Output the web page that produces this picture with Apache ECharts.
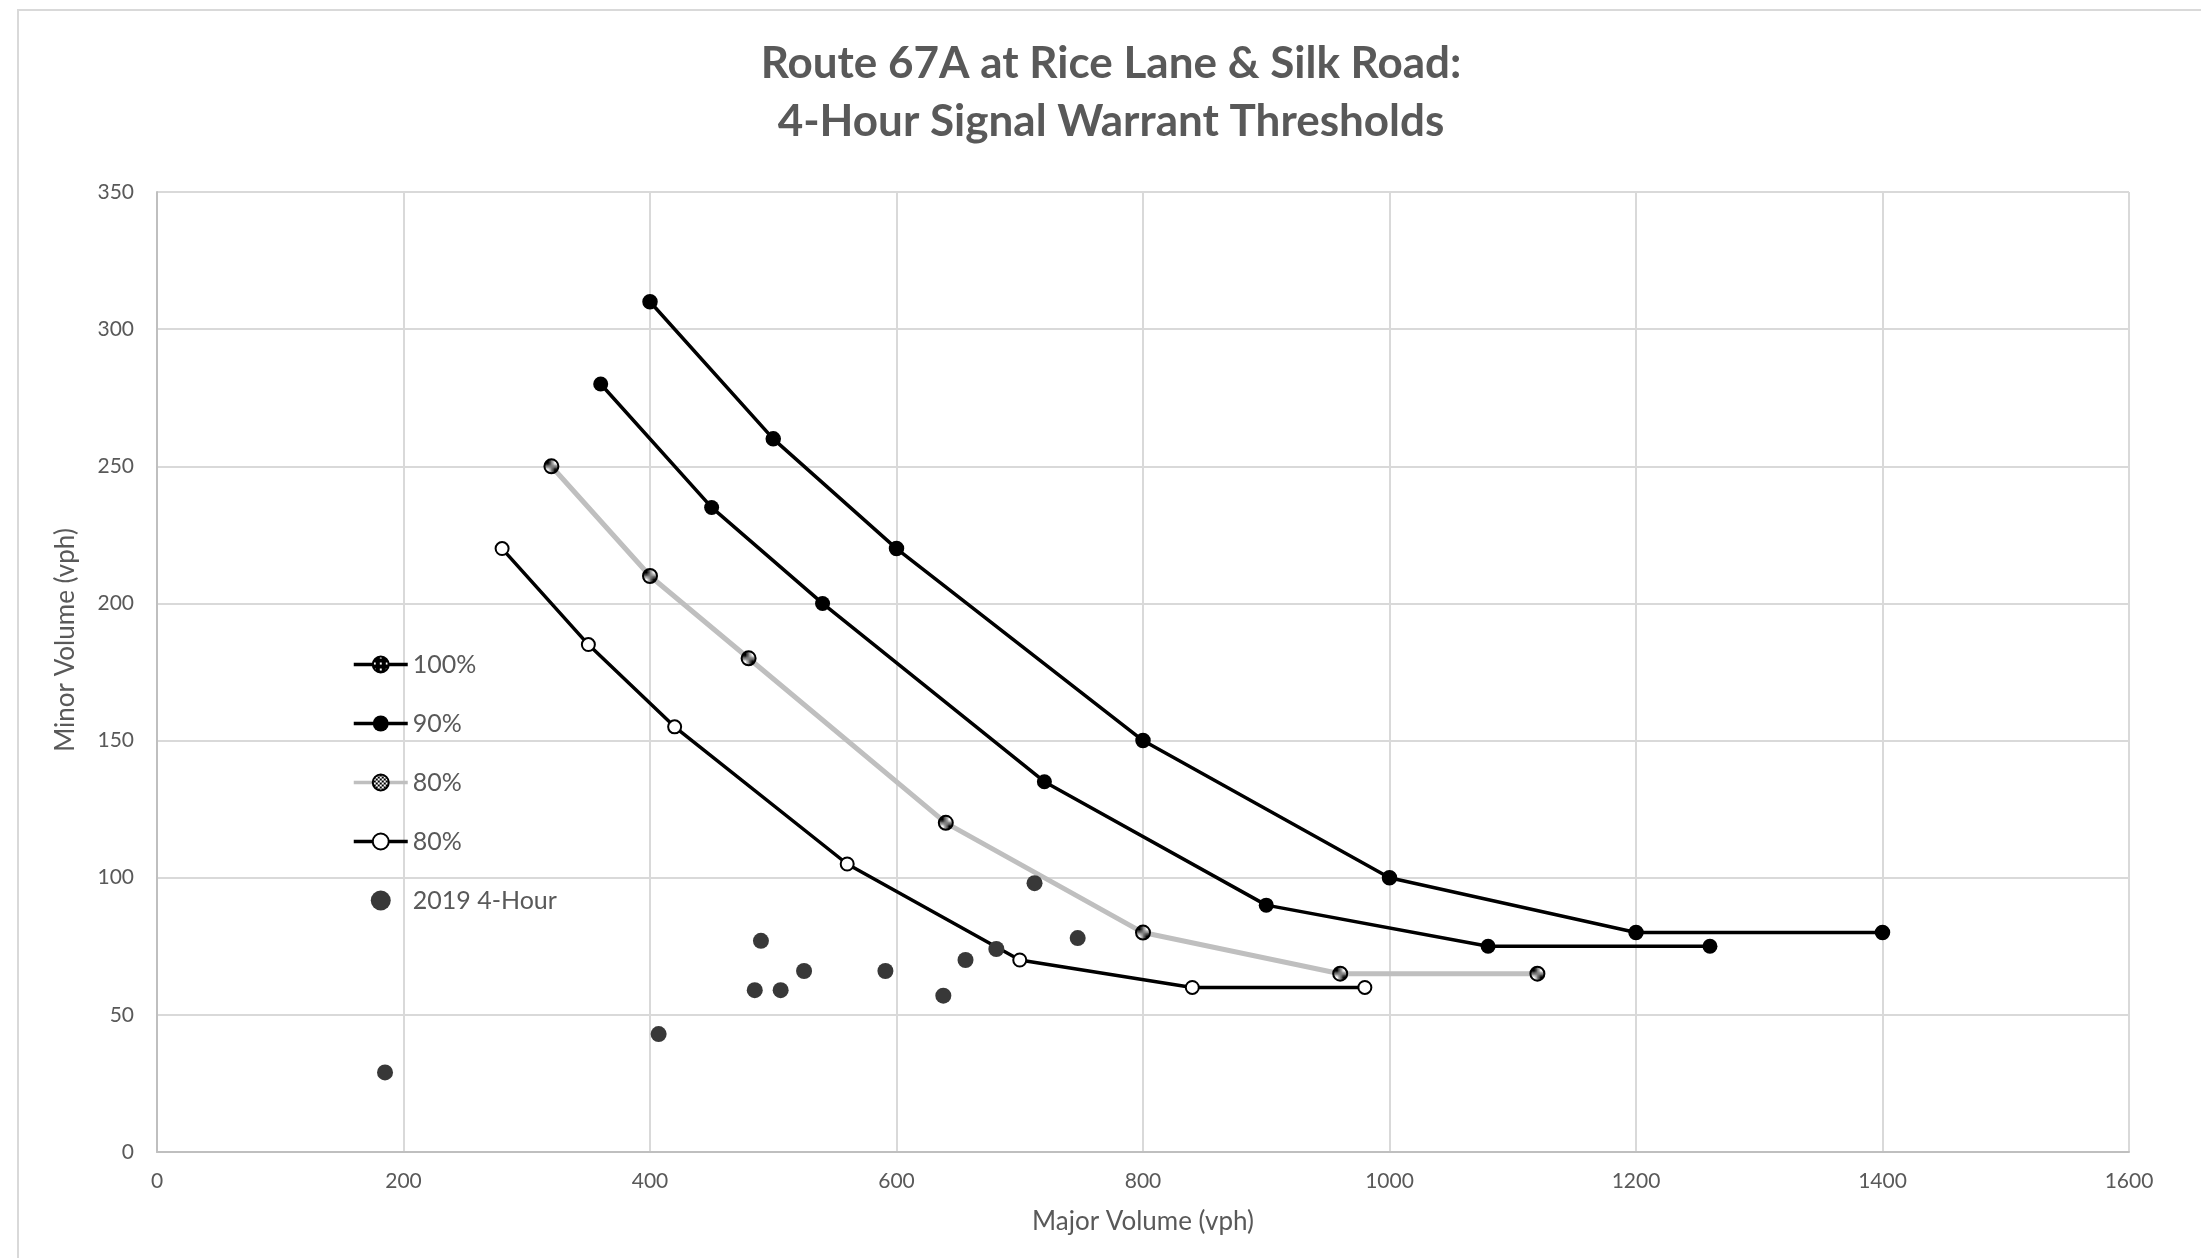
<!DOCTYPE html>
<html>
<head>
<meta charset="utf-8">
<script src="https://cdn.jsdelivr.net/npm/echarts@6/dist/echarts.min.js"></script>
<style>
html,body{margin:0;padding:0;background:#fff;}
#chart{width:2201px;height:1258px;}
</style>
</head>
<body>
<div id="chart"></div>
<script>
// ---- Data ----
const titleLines = ['Route 67A at Rice Lane & Silk Road:', '4-Hour Signal Warrant Thresholds'];
const xAxisName = 'Major Volume (vph)';
const yAxisName = 'Minor Volume (vph)';
const seriesNames = ['100%', '90%', '80%', '80% ', '2019 4-Hour'];

const major100 = [400, 500, 600, 800, 1000, 1200, 1400];
const minor100 = [310, 260, 220, 150, 100, 80, 80];
const major90 = [360, 450, 540, 720, 900, 1080, 1260];
const minor90 = [280, 235, 200, 135, 90, 75, 75];
const major80a = [320, 400, 480, 640, 800, 960, 1120];
const minor80a = [250, 210, 180, 120, 80, 65, 65];
const major80b = [280, 350, 420, 560, 700, 840, 980];
const minor80b = [220, 185, 155, 105, 70, 60, 60];
const major2019 = [185, 407, 485, 490, 506, 525, 591, 638, 656, 681, 712, 747];
const minor2019 = [29, 43, 59, 77, 59, 66, 66, 57, 70, 74, 98, 78];

const xTicks = [0, 200, 400, 600, 800, 1000, 1200, 1400, 1600];
const yTicks = [0, 50, 100, 150, 200, 250, 300, 350];

function pairs(xs, ys) { return xs.map((x, i) => [x, ys[i]]); }

// ---- Marker fill patterns ----
function makeDotPattern() {
  const c = document.createElement('canvas');
  c.width = 6; c.height = 6;
  const g = c.getContext('2d');
  g.fillStyle = '#000'; g.fillRect(0, 0, 6, 6);
  g.fillStyle = '#fff'; g.fillRect(2, 2, 2, 2);
  return c;
}
function makeCheckerPattern() {
  const c = document.createElement('canvas');
  c.width = 4; c.height = 4;
  const g = c.getContext('2d');
  g.fillStyle = '#fff'; g.fillRect(0, 0, 4, 4);
  g.fillStyle = '#000'; g.fillRect(0, 0, 2, 2); g.fillRect(2, 2, 2, 2);
  return c;
}
const dotPattern = { image: makeDotPattern(), repeat: 'repeat' };
const checkerPattern = { image: makeCheckerPattern(), repeat: 'repeat' };

const FONT = 'Lato, "Open Sans", sans-serif';
const GRAY_TEXT = '#595959';

const chart = echarts.init(document.getElementById('chart'), null, { renderer: 'canvas' });

const option = {
  backgroundColor: '#ffffff',
  animation: false,
  graphic: [{
    type: 'rect',
    z: -10,
    shape: { x: 18, y: 10, width: 2400, height: 1400 },
    style: { fill: 'none', stroke: '#d9d9d9', lineWidth: 2 }
  }],
  title: {
    text: titleLines.join('\n'),
    left: 1106,
    textAlign: 'center',
    top: 30,
    textStyle: {
      fontFamily: FONT,
      fontWeight: 'bold',
      fontSize: 44,
      lineHeight: 58,
      color: GRAY_TEXT
    }
  },
  grid: { left: 157, right: 72, top: 192, bottom: 106, containLabel: false },
  legend: {
    orient: 'vertical',
    left: 347,
    top: 647,
    itemWidth: 54,
    itemHeight: 20,
    itemGap: 34,
    data: seriesNames,
    lineStyle: { width: 3.5 },
    textStyle: { fontFamily: FONT, fontSize: 25, color: GRAY_TEXT, lineHeight: 25 },
    selectedMode: false
  },
  xAxis: {
    type: 'value',
    min: xTicks[0],
    max: xTicks[xTicks.length - 1],
    interval: xTicks[1] - xTicks[0],
    name: xAxisName,
    nameLocation: 'middle',
    nameGap: 57,
    nameTextStyle: { fontFamily: FONT, fontSize: 26, color: GRAY_TEXT },
    axisLine: { show: true, lineStyle: { color: '#bfbfbf', width: 2 } },
    axisTick: { show: false },
    axisLabel: { fontFamily: FONT, fontSize: 21, color: GRAY_TEXT, margin: 19, formatter: v => String(v) },
    splitLine: { show: true, lineStyle: { color: '#d9d9d9', width: 2 } }
  },
  yAxis: {
    type: 'value',
    min: yTicks[0],
    max: yTicks[yTicks.length - 1],
    interval: yTicks[1] - yTicks[0],
    name: yAxisName,
    nameLocation: 'middle',
    nameGap: 78,
    nameTextStyle: { fontFamily: FONT, fontSize: 26, color: GRAY_TEXT, padding: [0, 0, 0, 64] },
    axisLine: { show: true, lineStyle: { color: '#bfbfbf', width: 2 } },
    axisTick: { show: false },
    axisLabel: { fontFamily: FONT, fontSize: 21, color: GRAY_TEXT, margin: 23, formatter: v => String(v) },
    splitLine: { show: true, lineStyle: { color: '#d9d9d9', width: 2 } }
  },
  series: [
    {
      name: seriesNames[0],
      type: 'line',
      data: pairs(major100, minor100),
      symbol: 'circle', symbolSize: 14, showSymbol: true,
      lineStyle: { color: '#000', width: 3.5 },
      itemStyle: { color: dotPattern, borderColor: '#000', borderWidth: 1.5 },
      z: 3
    },
    {
      name: seriesNames[1],
      type: 'line',
      data: pairs(major90, minor90),
      symbol: 'circle', symbolSize: 15, showSymbol: true,
      lineStyle: { color: '#000', width: 3.5 },
      itemStyle: { color: '#000', borderColor: '#000', borderWidth: 0 },
      z: 3
    },
    {
      name: seriesNames[2],
      type: 'line',
      data: pairs(major80a, minor80a),
      symbol: 'circle', symbolSize: 14, showSymbol: true,
      lineStyle: { color: '#bfbfbf', width: 5 },
      itemStyle: { color: checkerPattern, borderColor: '#000', borderWidth: 2 },
      z: 2
    },
    {
      name: seriesNames[3],
      type: 'line',
      data: pairs(major80b, minor80b),
      symbol: 'circle', symbolSize: 13, showSymbol: true,
      lineStyle: { color: '#000', width: 3.5 },
      itemStyle: { color: '#fff', borderColor: '#000', borderWidth: 2 },
      z: 3
    },
    {
      name: seriesNames[4],
      type: 'scatter',
      data: pairs(major2019, minor2019),
      symbol: 'circle', symbolSize: 16,
      itemStyle: { color: '#383838', opacity: 1 },
      z: 4
    }
  ]
};
chart.setOption(option);
</script>
</body>
</html>
